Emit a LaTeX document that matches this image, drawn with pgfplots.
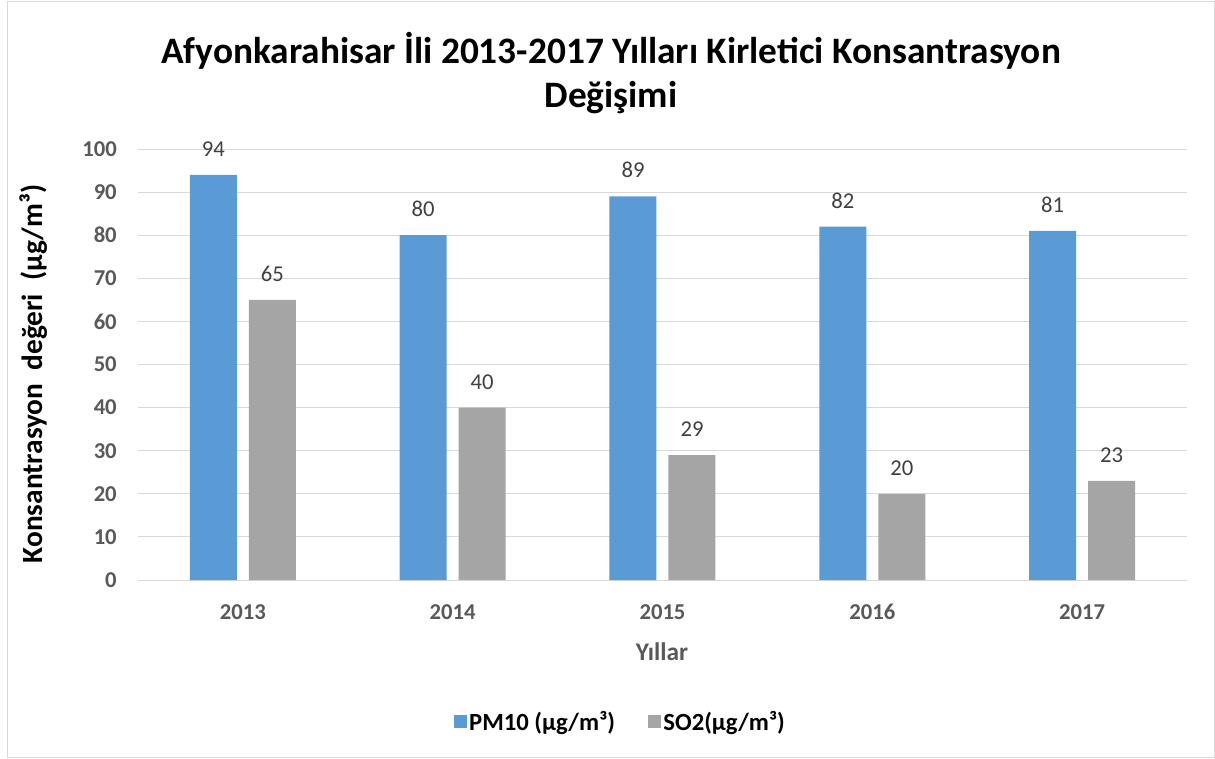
\documentclass[border=0pt]{standalone}
\usepackage{fontspec}
\setmainfont{Carlito}
\usepackage{pgfplots}
\pgfplotsset{compat=1.18}
\definecolor{pmblue}{HTML}{5B9BD5}
\definecolor{sogray}{HTML}{A5A5A5}
\definecolor{gridc}{HTML}{D9D9D9}
\definecolor{tickc}{HTML}{595959}
\definecolor{labc}{HTML}{404040}
\begin{document}
\begin{tikzpicture}[x=0.75pt,y=0.75pt]
\useasboundingbox (-138,-178) rectangle (1077,580);
\draw[gridc, line width=0.75pt] (-130,-177.5) rectangle (1076.5,578);
\begin{axis}[
  at={(0,0)}, anchor=south west,
  scale only axis, width=786.75pt, height=323.25pt,
  ymin=0, ymax=100, ytick={0,10,...,100},
  xmin=-0.5, xmax=4.5, xtick={0,1,2,3,4},
  xticklabels={2013,2014,2015,2016,2017},
  axis line style={draw=none},
  tick style={draw=none},
  major tick length=0pt,
  ymajorgrids, grid style={gridc, line width=0.75pt},
  /pgf/number format/assume math mode=true,
  ticklabel style={font=\bfseries\fontsize{17}{20}\selectfont, text=tickc, inner sep=0pt},
  yticklabel style={anchor=east, xshift=-15.75pt},
  xticklabel style={anchor=center, yshift=-24pt},
  ybar, bar width=35.25pt,
  nodes near coords,
  nodes near coords style={font=\fontsize{17}{20}\selectfont, text=labc, anchor=south, inner sep=0pt, yshift=13.5pt},
  legend style={at={(0.46,-0.329)}, anchor=center, draw=none, legend columns=2,
    font=\bfseries\fontsize{18.5}{21}\selectfont,
    /tikz/every even column/.append style={column sep=22.5pt}},
  legend image code/.code={\fill[#1,draw=none] (0pt,-4.875pt) rectangle (9.75pt,4.875pt);},
]
\addplot[fill=pmblue, draw=none, bar shift=-22.125pt] coordinates {(0,94) (1,80) (2,89) (3,82) (4,81)};
\addlegendentry{PM10 (µg/m³)}
\addplot[fill=sogray, draw=none, bar shift=22.125pt] coordinates {(0,65) (1,40) (2,29) (3,20) (4,23)};
\addlegendentry{SO2(µg/m³)}
\end{axis}
\node[font=\bfseries\fontsize{28}{33}\selectfont, align=center] at (473,507) {Afyonkarahisar İli 2013-2017 Yılları Kirletici Konsantrasyon\\Değişimi};
\node[rotate=90, font=\bfseries\fontsize{22}{26}\selectfont] at (-104,206) {Konsantrasyon\ \ değeri\ \ (µg/m³)};
\node[font=\bfseries\fontsize{19}{22}\selectfont, text=tickc] at (524,-72) {Yıllar};
\end{tikzpicture}
\end{document}
